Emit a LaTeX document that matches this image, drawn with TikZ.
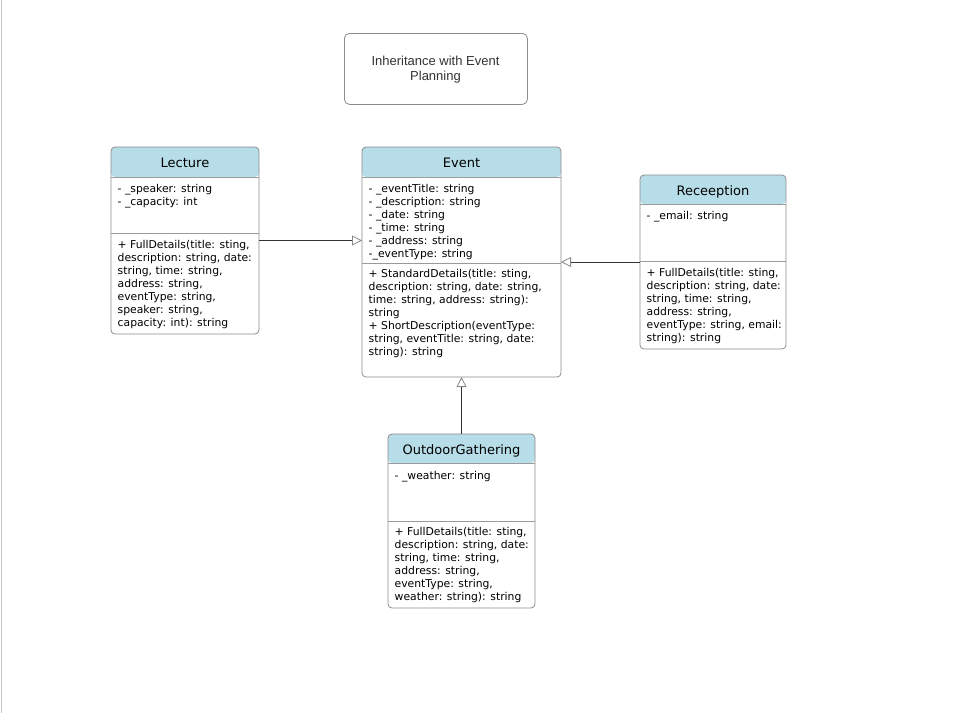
\documentclass[tikz,border=0pt]{standalone}
\usepackage{fontspec}
\setmainfont{DejaVu Sans}
\newfontfamily\titlefont{Liberation Sans}
\usetikzlibrary{arrows.meta}
\definecolor{hdrc}{HTML}{B7DDE8}
\definecolor{bordc}{HTML}{8C8C8C}
\definecolor{sepc}{HTML}{9A9A9A}
\definecolor{linec}{HTML}{333333}
\definecolor{arrc}{HTML}{888888}
\definecolor{titc}{HTML}{333333}
\begin{document}
\begin{tikzpicture}[x=1pt,y=-1pt,
 classbox/.style={draw=bordc, line width=0.8pt, rounded corners=4pt, fill=white, anchor=north west, inner sep=0pt, outer sep=0pt},
 hdr/.style={path picture={\fill[hdrc] (path picture bounding box.north west) rectangle ([yshift=-#1]path picture bounding box.north east);}},
 hdrtxt/.style={font=\fontsize{13}{15}\selectfont, anchor=base, inner sep=0pt},
 bodytxt/.style={font=\fontsize{10.8}{13}\selectfont, align=left, anchor=north west, inner sep=0pt},
 sep/.style={draw=sepc, line width=0.8pt},
 inh/.style={draw=linec, line width=0.8pt, -{Triangle[open, length=10pt, width=10pt, color=arrc]}},
 titlebox/.style={draw=bordc, line width=0.8pt, rounded corners=5pt, anchor=north west, inner sep=0pt},
 titletxt/.style={font=\titlefont\fontsize{13}{15}\selectfont, text=titc, align=center, inner sep=0pt}
]
\useasboundingbox (0,0) rectangle (958,713);
\fill[white] (0,0) rectangle (958,713);
\draw[gray!45, line width=0.8pt] (1.5,0) -- (1.5,713);

% title
\node[titlebox, minimum width=183pt, minimum height=71pt] (title) at (344,33) {};
\node[titletxt] (titletext) at (435.5,69.5) {Inheritance with Event\\Planning};

% Lecture
\node[classbox, hdr=30pt, minimum width=148pt, minimum height=187pt] (lec) at (111,147) {};
\draw[sep] ([yshift=-30pt]lec.north west) -- ([yshift=-30pt]lec.north east);
\draw[sep] ([yshift=-86pt]lec.north west) -- ([yshift=-86pt]lec.north east);
\node[hdrtxt] (lecname) at (185,167) {Lecture};
\node[bodytxt] (lecattr) at (117.5,184) {- \_speaker: string\\- \_capacity: int};
\node[bodytxt] (lecmeth) at (117.5,240) {+ FullDetails(title: sting,\\description: string, date:\\string, time: string,\\address: string,\\eventType: string,\\speaker: string,\\capacity: int): string};

% Event
\node[classbox, hdr=30pt, minimum width=199pt, minimum height=230pt] (ev) at (362,147) {};
\draw[sep] ([yshift=-30pt]ev.north west) -- ([yshift=-30pt]ev.north east);
\draw[sep] ([yshift=-116pt]ev.north west) -- ([yshift=-116pt]ev.north east);
\node[hdrtxt] (evname) at (461.5,167) {Event};
\node[bodytxt] (evattr) at (368.5,184) {- \_eventTitle: string\\- \_description: string\\- \_date: string\\- \_time: string\\- \_address: string\\-\_eventType: string};
\node[bodytxt] (evmeth) at (368.5,269) {+ StandardDetails(title: sting,\\description: string, date: string,\\time: string, address: string):\\string\\+ ShortDescription(eventType:\\string, eventTitle: string, date:\\string): string};

% Receeption
\node[classbox, hdr=29pt, minimum width=146pt, minimum height=174pt] (rec) at (640,175) {};
\draw[sep] ([yshift=-29pt]rec.north west) -- ([yshift=-29pt]rec.north east);
\draw[sep] ([yshift=-86pt]rec.north west) -- ([yshift=-86pt]rec.north east);
\node[hdrtxt] (recname) at (713,195) {Receeption};
\node[bodytxt] (recattr) at (646.5,211.5) {- \_email: string};
\node[bodytxt] (recmeth) at (646.5,268.5) {+ FullDetails(title: sting,\\description: string, date:\\string, time: string,\\address: string,\\eventType: string, email:\\string): string};

% OutdoorGathering
\node[classbox, hdr=29pt, minimum width=147pt, minimum height=174pt] (out) at (388,434) {};
\draw[sep] ([yshift=-29pt]out.north west) -- ([yshift=-29pt]out.north east);
\draw[sep] ([yshift=-87pt]out.north west) -- ([yshift=-87pt]out.north east);
\node[hdrtxt] (outname) at (461.5,454) {OutdoorGathering};
\node[bodytxt] (outattr) at (394.5,471.5) {- \_weather: string};
\node[bodytxt] (outmeth) at (394.5,527.5) {+ FullDetails(title: sting,\\description: string, date:\\string, time: string,\\address: string,\\eventType: string,\\weather: string): string};

% inheritance connectors
\draw[inh] (lec.east) -- (lec.east -| ev.west);
\draw[inh] (rec.west) -- (rec.west -| ev.east);
\draw[inh] (out.north) -- (out.north |- ev.south);
\end{tikzpicture}
\end{document}
